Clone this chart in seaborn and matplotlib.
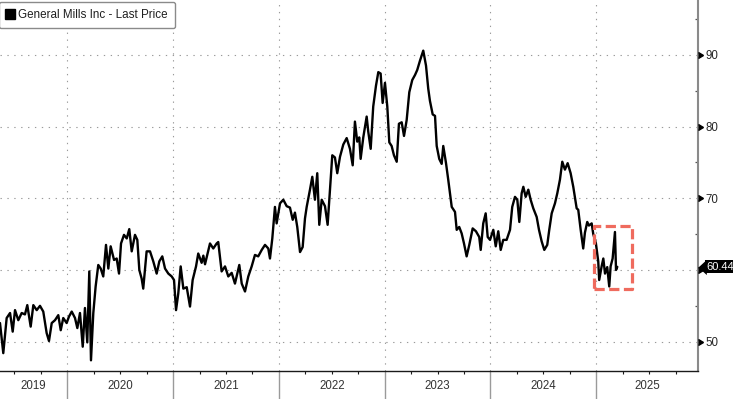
import numpy as np
import pandas as pd
import matplotlib
matplotlib.use("Agg")
import matplotlib.pyplot as plt
import seaborn as sns
from matplotlib.ticker import FixedLocator, NullFormatter, FuncFormatter
from matplotlib.lines import Line2D
from matplotlib.patches import Rectangle
import matplotlib.transforms as mtransforms

# ---- data ----
years = [
    2019.364, 2019.395, 2019.411, 2019.427, 2019.459, 2019.484, 2019.506, 2019.537, 2019.569, 2019.600,
    2019.622, 2019.654, 2019.679, 2019.711, 2019.742, 2019.773, 2019.805, 2019.827, 2019.853, 2019.884,
    2019.915, 2019.938, 2019.962, 2019.994, 2020.016, 2020.042, 2020.073, 2020.095, 2020.120, 2020.146,
    2020.167, 2020.189, 2020.208, 2020.224, 2020.246, 2020.268, 2020.293, 2020.316, 2020.340, 2020.366,
    2020.388, 2020.410, 2020.442, 2020.467, 2020.489, 2020.508, 2020.536, 2020.562, 2020.586, 2020.609,
    2020.640, 2020.662, 2020.681, 2020.703, 2020.718, 2020.750, 2020.782, 2020.813, 2020.845, 2020.870,
    2020.898, 2020.924, 2020.955, 2020.987, 2021.009, 2021.028, 2021.049, 2021.072, 2021.097, 2021.129,
    2021.160, 2021.185, 2021.217, 2021.238, 2021.270, 2021.286, 2021.302, 2021.349, 2021.380, 2021.412,
    2021.427, 2021.459, 2021.491, 2021.522, 2021.554, 2021.585, 2021.626, 2021.649, 2021.680, 2021.711,
    2021.743, 2021.774, 2021.805, 2021.838, 2021.869, 2021.900, 2021.916, 2021.938, 2021.963, 2021.979,
    2022.011, 2022.042, 2022.074, 2022.105, 2022.131, 2022.152, 2022.174, 2022.200, 2022.225, 2022.247,
    2022.263, 2022.294, 2022.316, 2022.341, 2022.363, 2022.382, 2022.405, 2022.436, 2022.461, 2022.483,
    2022.505, 2022.530, 2022.552, 2022.578, 2022.609, 2022.641, 2022.672, 2022.698, 2022.719, 2022.741,
    2022.760, 2022.773, 2022.798, 2022.830, 2022.845, 2022.868, 2022.892, 2022.918, 2022.940, 2022.962,
    2022.981, 2023.003, 2023.025, 2023.044, 2023.066, 2023.088, 2023.114, 2023.135, 2023.161, 2023.183,
    2023.208, 2023.233, 2023.261, 2023.287, 2023.308, 2023.334, 2023.365, 2023.391, 2023.412, 2023.428,
    2023.454, 2023.476, 2023.492, 2023.516, 2023.539, 2023.554, 2023.580, 2023.601, 2023.634, 2023.665,
    2023.681, 2023.705, 2023.728, 2023.750, 2023.775, 2023.800, 2023.832, 2023.863, 2023.894, 2023.908,
    2023.932, 2023.955, 2023.974, 2023.996, 2024.027, 2024.050, 2024.074, 2024.097, 2024.121, 2024.153,
    2024.185, 2024.206, 2024.232, 2024.254, 2024.273, 2024.295, 2024.311, 2024.333, 2024.358, 2024.380,
    2024.405, 2024.437, 2024.459, 2024.484, 2024.509, 2024.537, 2024.556, 2024.579, 2024.610, 2024.632,
    2024.657, 2024.679, 2024.704, 2024.730, 2024.758, 2024.783, 2024.815, 2024.830, 2024.853, 2024.877,
    2024.893, 2024.915, 2024.931, 2024.957, 2024.972, 2024.997, 2025.019, 2025.028, 2025.051, 2025.067,
    2025.083, 2025.104, 2025.123, 2025.136, 2025.155, 2025.177, 2025.187, 2025.199,
]
prices = [
    52.6, 48.4, 50.9, 53.3, 54.0, 51.4, 54.4, 53.0, 54.0, 53.8,
    55.1, 52.1, 55.1, 54.4, 55.0, 54.2, 51.2, 50.1, 52.6, 53.0,
    53.7, 51.6, 53.3, 52.6, 53.5, 54.2, 53.3, 51.9, 54.0, 49.3,
    54.7, 49.9, 59.8, 47.4, 54.0, 57.7, 60.7, 60.2, 59.1, 63.5,
    60.2, 63.3, 61.4, 61.6, 59.5, 63.7, 64.9, 64.4, 65.7, 62.6,
    64.9, 64.2, 60.0, 58.8, 57.4, 62.6, 62.6, 61.2, 59.5, 61.2,
    61.9, 60.2, 59.5, 59.1, 58.6, 54.4, 56.7, 60.5, 57.4, 57.6,
    54.9, 58.6, 60.5, 62.3, 61.0, 62.0, 60.8, 63.7, 63.0, 63.7,
    63.9, 59.8, 60.5, 59.1, 59.6, 58.1, 60.7, 58.1, 57.0, 59.1,
    60.5, 62.1, 61.9, 62.8, 63.5, 63.0, 61.6, 64.4, 68.8, 66.5,
    69.3, 69.8, 68.9, 68.7, 67.0, 68.0, 66.0, 62.5, 63.2, 67.2,
    68.8, 71.2, 73.0, 69.8, 73.5, 66.3, 69.8, 68.9, 66.3, 71.2,
    76.0, 75.7, 73.5, 75.8, 77.5, 78.4, 76.9, 74.6, 80.7, 77.9,
    78.5, 75.5, 78.5, 81.4, 79.3, 76.9, 82.8, 85.7, 87.6, 87.4,
    83.3, 86.1, 82.8, 77.8, 77.3, 76.0, 75.1, 80.4, 80.6, 78.7,
    80.9, 84.8, 86.5, 87.2, 87.9, 89.2, 90.6, 88.5, 85.3, 83.6,
    81.7, 81.5, 77.3, 75.5, 74.8, 77.3, 74.9, 72.6, 68.8, 68.1,
    65.6, 66.0, 65.1, 63.7, 61.9, 63.5, 65.8, 65.4, 64.6, 62.8,
    66.5, 67.9, 64.6, 64.2, 65.6, 63.3, 65.4, 62.8, 64.2, 64.2,
    65.6, 68.8, 70.2, 69.8, 66.7, 70.7, 71.6, 70.2, 71.2, 69.8,
    68.6, 67.4, 65.6, 64.0, 62.8, 63.5, 65.6, 67.9, 69.3, 70.7,
    72.6, 75.1, 74.0, 74.9, 73.5, 71.6, 68.6, 68.4, 65.6, 63.0,
    65.2, 66.7, 66.2, 66.5, 65.0, 63.7, 61.2, 58.6, 60.5, 61.6,
    59.5, 60.4, 57.7, 60.5, 61.6, 65.3, 60.0, 60.44,
]
series_label = "General Mills Inc - Last Price"
year_boundaries = [2020, 2021, 2022, 2023, 2024, 2025]
year_labels = ["2019", "2020", "2021", "2022", "2023", "2024", "2025"]
year_label_starts = [2019, 2020, 2021, 2022, 2023, 2024, 2025]
quarter_ticks = [y + q for y in range(2019, 2026) for q in (0.25, 0.5, 0.75)]
y_major = [50, 60, 70, 80, 90]
y_minor = [55, 65, 75, 85, 95]
x_range = [2019.364, 2025.962]
y_range = [45.91, 97.66]
highlight_x = [2024.978, 2025.337]
highlight_y = [57.3, 66.2]

# ---- style ----
sns.set_theme(style="white")
plt.rcParams["font.family"] = ["Liberation Sans", "DejaVu Sans"]

W, H = 733, 399
fig = plt.figure(figsize=(W / 100, H / 100), dpi=100)
ax = fig.add_axes([0, 28 / H, 698 / W, 371 / H])

df = pd.DataFrame({"year": years, "price": prices})
sns.lineplot(data=df, x="year", y="price", color="black", linewidth=1.7,
             ax=ax, legend=False, zorder=4)

ax.set_xlim(*x_range)
ax.set_ylim(*y_range)
ax.set_xlabel("")
ax.set_ylabel("")

# spines
ax.spines["top"].set_visible(False)
ax.spines["left"].set_visible(False)
ax.spines["right"].set_color("#8a8a8a")
ax.spines["right"].set_linewidth(1.5)
ax.spines["bottom"].set_color("#1a1a1a")
ax.spines["bottom"].set_linewidth(1.0)

# x axis: year separators, quarter minor ticks
ax.xaxis.set_major_locator(FixedLocator(year_boundaries))
ax.xaxis.set_major_formatter(NullFormatter())
ax.xaxis.set_minor_locator(FixedLocator(quarter_ticks))
ax.xaxis.set_minor_formatter(NullFormatter())
ax.tick_params(axis="x", which="major", bottom=True, direction="out",
               length=21, width=1.0, color="#9a9a9a")
ax.tick_params(axis="x", which="minor", bottom=True, direction="out",
               length=2.3, width=0.8, color="#1a1a1a")

last = prices[-1]

# y axis on right (label hidden where the last-price tag sits)
ax.yaxis.tick_right()
ax.yaxis.set_major_locator(FixedLocator(y_major))
ax.yaxis.set_major_formatter(FuncFormatter(
    lambda v, p: "" if abs(v - last) < 2 else f"{v:g}"))
ax.yaxis.set_minor_locator(FixedLocator(y_minor))
ax.tick_params(axis="y", which="major", right=True, left=False, length=0,
               pad=5.5, labelsize=8.3, labelcolor="#262626")
ax.tick_params(axis="y", which="minor", right=True, left=False, direction="in",
               length=2.5, width=0.9, color="#555555")

# triangular major tick marks on right axis
tri_tr = mtransforms.blended_transform_factory(ax.transAxes, ax.transData)
ax.plot([1.0] * len(y_major), y_major, ls="", marker=9, ms=5, color="black",
        transform=tri_tr, clip_on=False, zorder=5)

# dotted grid
ax.grid(True, which="major", axis="both", color="#9a9a9a",
        linestyle=(0, (1.2, 5)), linewidth=0.8)

# year labels centred on visible part of each year
lab_tr = mtransforms.blended_transform_factory(ax.transData, ax.transAxes)
for start, lab in zip(year_label_starts, year_labels):
    a = max(start, x_range[0])
    b = min(start + 1, x_range[1])
    ax.annotate(lab, xy=((a + b) / 2, 0), xycoords=lab_tr,
                xytext=(0, -10.5), textcoords="offset points",
                ha="center", va="center", fontsize=8.3, color="#333333",
                annotation_clip=False)

# highlight box
ax.add_patch(Rectangle((highlight_x[0], highlight_y[0]),
                       highlight_x[1] - highlight_x[0],
                       highlight_y[1] - highlight_y[0],
                       fill=False, edgecolor="#ef6b5e", linewidth=2.3,
                       linestyle=(0, (3.2, 1.4)), joinstyle="round", zorder=6))

# last price tag: pointed left end + black box
tag_marker = [(0, 0), (0.55, 0.5), (0.55, -0.5), (0, 0)]
ax.plot([1.0], [last], ls="", marker=tag_marker, ms=12, color="black",
        markeredgewidth=0, transform=tri_tr, clip_on=False, zorder=7)
ax.text(1.0125, last, f"{last:.2f}", transform=tri_tr, ha="left", va="center",
        fontsize=8.0, color="white", clip_on=False, zorder=8,
        bbox=dict(boxstyle="square,pad=0.15", fc="black", ec="black", lw=0))

# legend
handle = Line2D([], [], marker="s", color="black", linestyle="", markersize=7.5)
leg = ax.legend(handles=[handle], labels=[series_label], loc="upper left",
                bbox_to_anchor=(-0.002, 0.995), borderaxespad=0.0,
                frameon=True, fancybox=True, framealpha=1, edgecolor="#8a8a8a",
                fontsize=8.4, handlelength=0.7, handletextpad=0.4,
                borderpad=0.6)
for t in leg.get_texts():
    t.set_color("#1f1f1f")
leg.get_frame().set_linewidth(1.0)

fig.savefig("out.png", dpi=100)
